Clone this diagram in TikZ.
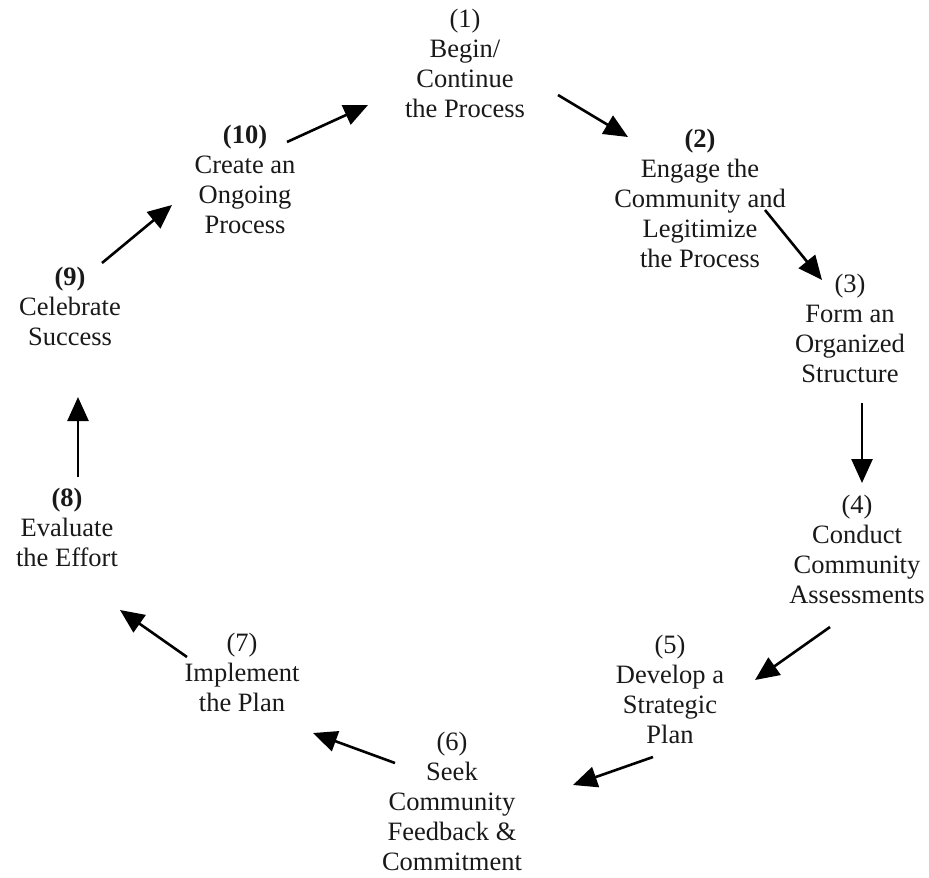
\documentclass[tikz,border=0pt]{standalone}
\usepackage{fontspec}
\setmainfont{Liberation Serif}
\usetikzlibrary{calc}
\usetikzlibrary{arrows.meta}
\tikzset{
  stage/.style={align=center,inner sep=0pt,text=black!90,
    font=\fontsize{26.5}{30}\selectfont},
  link/.style={line width=2.6pt,-{Triangle[length=24pt,width=21pt]}}
}
\begin{document}
\begin{tikzpicture}[x=1pt,y=-1pt]% y vers le bas, comme l'image
\useasboundingbox (0,0) rectangle (929,878);
% les dix etapes du cycle
\node[stage] (n1) at (465,63) {(1)\\Begin/\\Continue\\the Process};
\node[stage] (n2) at (700,198) {\textbf{(2)}\\Engage the\\Community and\\Legitimize\\the Process};
\node[stage] (n3) at (850,328) {(3)\\Form an\\Organized\\Structure};
\node[stage] (n4) at (857,549) {(4)\\Conduct\\Community\\Assessments};
\node[stage] (n5) at (670,689) {(5)\\Develop a\\Strategic\\Plan};
\node[stage] (n6) at (452,801) {(6)\\Seek\\Community\\Feedback \&\\Commitment};
\node[stage] (n7) at (242,672) {(7)\\Implement\\the Plan};
\node[stage] (n8) at (67,527) {\textbf{(8)}\\Evaluate\\the Effort};
\node[stage] (n9) at (70,306) {\textbf{(9)}\\Celebrate\\Success};
\node[stage] (n10) at (245,179) {\textbf{(10)}\\Create an\\Ongoing\\Process};
% les fleches
\draw[link] ($(n1)+(93,32)$) -- ($(n2)+(-72,-61)$);
\draw[link] ($(n2)+(65,12)$) -- ($(n3)+(-28,-48)$);
\draw[link] ($(n3)+(12,75)$) -- ($(n4)+(5,-66)$);
\draw[link] ($(n4)+(-27,78)$) -- ($(n5)+(85,-9)$);
\draw[link] ($(n5)+(-17,68)$) -- ($(n6)+(121,-16)$);
\draw[link] ($(n6)+(-57,-38)$) -- ($(n7)+(71,61)$);
\draw[link] ($(n7)+(-55,-15)$) -- ($(n8)+(53,83)$);
\draw[link] ($(n8)+(11,-50)$) -- ($(n9)+(8,91)$);
\draw[link] ($(n9)+(32,-43)$) -- ($(n10)+(-73,26)$);
\draw[link] ($(n10)+(42,-37)$) -- ($(n1)+(-97,42)$);
\end{tikzpicture}
\end{document}
